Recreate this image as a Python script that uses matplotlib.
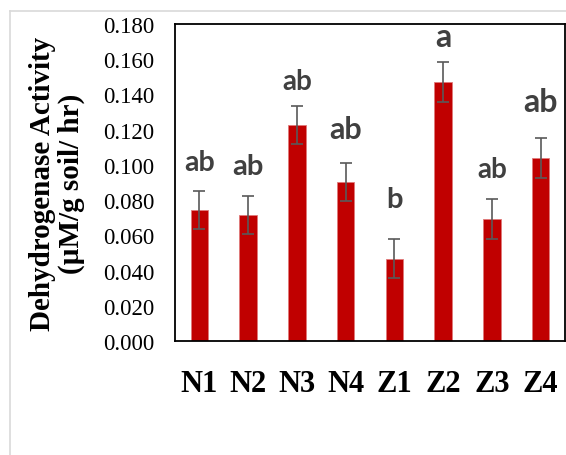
import numpy as np
import matplotlib
matplotlib.use("Agg")
import matplotlib.pyplot as plt
from matplotlib.lines import Line2D

# data
treatments = ["N1", "N2", "N3", "N4", "Z1", "Z2", "Z3", "Z4"]
activity = [0.0744, 0.0716, 0.1226, 0.0903, 0.0467, 0.1469, 0.0693, 0.1037]
std_err = [0.0110, 0.0108, 0.0110, 0.0108, 0.0112, 0.0114, 0.0114, 0.0114]
letters = ["ab", "ab", "ab", "ab", "b", "a", "ab", "ab"]
yticks = [0.000, 0.020, 0.040, 0.060, 0.080, 0.100, 0.120, 0.140, 0.160, 0.180]

# label placement (gap above error bar in points, font size)
letter_gap = [15, 15.6, 12, 18, 23, 11.7, 15.8, 19.7]
letter_size = [20.5, 21, 20, 22, 21, 23, 20, 23]

fig = plt.figure(figsize=(5.66, 4.56), dpi=100)
ax = fig.add_axes([175 / 566, 114 / 456, 390 / 566, 317 / 456])

x = np.arange(len(treatments))
ax.bar(x, activity, width=0.355, color="#C00000", edgecolor="#E07a7a",
       linewidth=0.6, zorder=2)
ax.errorbar(x, activity, yerr=std_err, fmt="none", ecolor="#595959",
            elinewidth=1.2, capsize=4.3, capthick=1.2, zorder=3)

for i in range(len(treatments)):
    ax.annotate(letters[i], (x[i], activity[i] + std_err[i]),
                xytext=(0, letter_gap[i]), textcoords="offset points",
                ha="center", va="baseline", fontsize=letter_size[i],
                fontweight="bold", color="#404040", family="Lato")

ax.set_xlim(-0.5, len(treatments) - 0.5)
ax.set_ylim(0, 0.18)
ax.set_yticks(yticks)
ax.set_yticklabels(["%.3f" % v for v in yticks], family="Liberation Serif",
                   fontsize=16.5)
ax.set_xticks(x)
ax.set_xticklabels(treatments, family="Liberation Serif", fontsize=22,
                   fontweight="bold")
ax.tick_params(axis="both", length=0)
ax.tick_params(axis="y", pad=15)
ax.tick_params(axis="x", pad=20)

for side in ["left", "right", "top", "bottom"]:
    ax.spines[side].set_color("black")
    ax.spines[side].set_linewidth(1.3)

fig.text(57 / 566, 1 - 184 / 456,
         "Dehydrogenase Activity\n(\u00b5M/g soil/ hr)",
         family="Liberation Serif", fontsize=21, fontweight="bold",
         rotation=90, ha="center", va="center", linespacing=1.1,
         multialignment="center")

# light grey border of the original figure
fig.add_artist(Line2D([10 / 566, 1], [1 - 12 / 456, 1 - 12 / 456],
                      transform=fig.transFigure, color="#d9d9d9", lw=1.2))
fig.add_artist(Line2D([10 / 566, 10 / 566], [0, 1 - 12 / 456],
                      transform=fig.transFigure, color="#d9d9d9", lw=1.2))

fig.savefig("out.png", dpi=100)
